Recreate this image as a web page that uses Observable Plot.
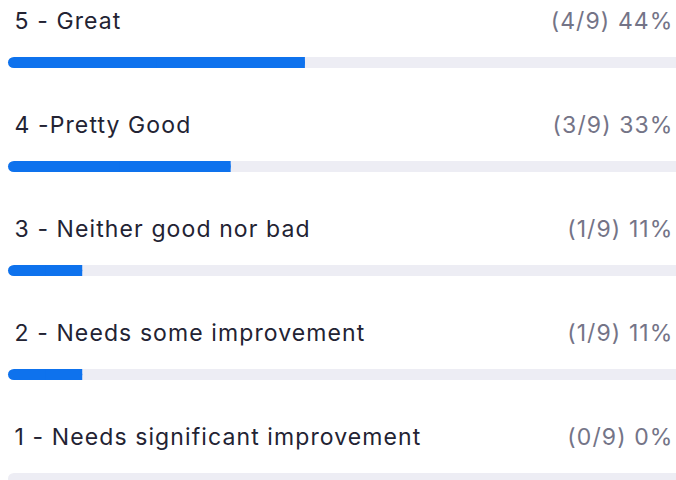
<!DOCTYPE html>
<html>
<head>
<meta charset="utf-8">
<script src="https://cdn.jsdelivr.net/npm/d3@7"></script>
<script src="https://cdn.jsdelivr.net/npm/@observablehq/plot@0.6"></script>
<style>
  html, body { margin: 0; padding: 0; background: #fff; overflow: hidden; }
  svg text { letter-spacing: 1.1px; }
</style>
</head>
<body>
<div id="chart"></div>
<script>
const labels = ["5 - Great", "4 -Pretty Good", "3 - Neither good nor bad", "2 - Needs some improvement", "1 - Needs significant improvement"];
const counts = [4, 3, 1, 1, 0];
const total = 9;
const shareText = ["(4/9) 44%", "(3/9) 33%", "(1/9) 11%", "(1/9) 11%", "(0/9) 0%"];

const data = labels.map((label, i) => ({label, share: counts[i] / total, text: shareText[i]}));

const W = 676, H = 480;
const font = "Inter, 'Open Sans', sans-serif";

const chart = Plot.plot({
  width: W,
  height: H,
  margin: 0,
  style: {background: "#fff", overflow: "visible"},
  x: {domain: [0, 1], range: [8, 676], axis: null},
  y: {domain: labels, range: [0, 520], padding: 0, axis: null},
  marks: [
    Plot.barX(data, {x1: 0, x2: 1, y: "label", fill: "#ededf4", rx: 6, insetTop: 57, insetBottom: 36}),
    Plot.barX(data, {x1: 0.5, x2: 1, y: "label", fill: "#ededf4", insetTop: 57, insetBottom: 36}),
    Plot.barX(data.filter(d => d.share > 0), {x1: 0, x2: "share", y: "label", fill: "#0e72ed", rx: 6, insetTop: 57, insetBottom: 36}),
    Plot.barX(data.filter(d => d.share > 0), {x1: d => d.share / 2, x2: "share", y: "label", fill: "#0e72ed", insetTop: 57, insetBottom: 36}),
    Plot.text(data, {x: 0, y: "label", text: "label", textAnchor: "start", dx: 6, dy: -31, fontSize: 23, fontFamily: font, fill: "#232333"}),
    Plot.text(data, {x: 1, y: "label", text: "text", textAnchor: "end", dx: -3, dy: -31, fontSize: 23, fontFamily: font, fill: "#747487"})
  ]
});
document.getElementById("chart").appendChild(chart);
</script>
</body>
</html>
